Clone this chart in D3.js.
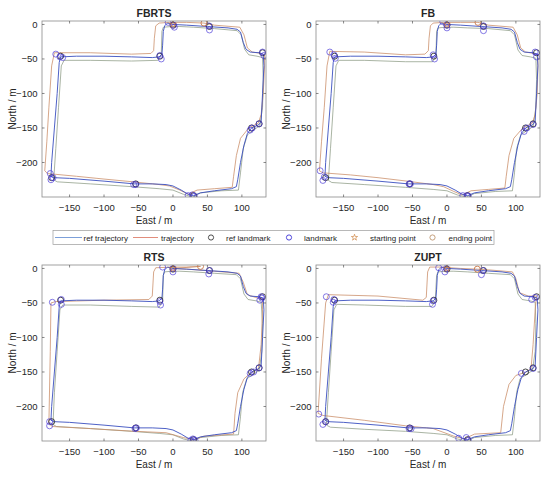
<!DOCTYPE html>
<meta charset="utf-8">
<head>
    <title>Trajectory comparison</title>
</head>
<style>
    body { margin: 0; background: #fff; }
    text { font-family: Arial, "Liberation Sans", sans-serif; fill: #262626; }
</style>
<script src="https://d3js.org/d3.v7.min.js"></script>
<body>
    <div id="chart"></div>
</body>
<script>

    // data
    var panelNames = ["FBRTS", "FB", "RTS", "ZUPT"];
    var xTicks = [-150, -100, -50, 0, 50, 100];
    var yTicks = [-200, -150, -100, -50, 0];

    var refTrajectory = [[-8, 2], [0, 0], [20, -1], [50, -3], [80, -5], [93, -7], [98, -11], [102, -26], [106, -36], [112, -40], [125, -41], [131, -43], [132, -60], [130, -100], [128, -140], [125, -145], [114, -150], [108, -158], [103, -175], [98, -200], [94, -225], [92, -235], [85, -238], [60, -241], [40, -244], [30, -248], [22, -246], [12, -240], [0, -234], [-10, -232], [-30, -231], [-56, -231], [-100, -227], [-150, -223], [-172, -222], [-177, -220], [-176, -200], [-172, -150], [-168, -100], [-165, -55], [-163, -47], [-140, -46], [-100, -46], [-60, -47], [-30, -48], [-20, -47], [-16, -43], [-15, -30], [-14, -10], [-12, -2], [-8, 2]];

    var trajFBRTS = [[45, 2], [20, 3], [-5, 3], [-20, 2], [-25, -2], [-27, -20], [-28, -38], [-32, -42], [-60, -43], [-120, -41], [-172, -41], [-176, -60], [-180, -120], [-183, -170], [-186, -212], [-182, -216], [-140, -220], [-100, -224], [-58, -228], [-20, -232], [-5, -234], [10, -240], [22, -246], [35, -240], [60, -238], [86, -236], [88, -220], [92, -190], [98, -165], [110, -150], [124, -143], [128, -130], [131, -100], [133, -60], [133, -45], [128, -42], [115, -40], [108, -34], [103, -15], [97, -4], [60, -1], [45, 2]];
    var trajFB = [[45, 3], [20, 3], [-5, 3], [-20, 2], [-24, -2], [-26, -20], [-27, -38], [-32, -43], [-60, -44], [-120, -40], [-170, -39], [-174, -60], [-178, -120], [-182, -170], [-185, -212], [-180, -215], [-140, -218], [-100, -222], [-58, -227], [-20, -232], [-5, -235], [10, -242], [22, -247], [35, -241], [60, -239], [84, -237], [86, -220], [90, -190], [97, -165], [110, -150], [124, -143], [128, -130], [131, -100], [132, -60], [132, -44], [126, -42], [114, -40], [107, -34], [102, -15], [96, -4], [60, -1], [45, 3]];
    var trajRTS = [[40, 3], [20, 2], [0, 2], [-25, 1], [-28, -5], [-30, -40], [-35, -45], [-100, -46], [-170, -48], [-177, -50], [-178, -120], [-180, -225], [-175, -229], [-120, -232], [-55, -236], [-10, -238], [15, -245], [30, -248], [45, -243], [88, -240], [90, -210], [94, -180], [103, -160], [112, -152], [124, -146], [128, -110], [130, -60], [130, -44], [120, -42], [108, -38], [102, -20], [96, -7], [60, -4], [20, -1], [0, 0], [40, 3]];
    var trajZUPT = [[44, -1], [20, 0], [-10, 2], [-25, 2], [-28, -5], [-30, -42], [-35, -46], [-100, -40], [-172, -38], [-176, -50], [-182, -130], [-187, -210], [-180, -213], [-120, -220], [-60, -228], [-20, -232], [10, -243], [25, -247], [40, -240], [78, -238], [82, -200], [90, -168], [100, -155], [115, -150], [122, -145], [125, -110], [128, -60], [130, -40], [118, -40], [105, -35], [100, -15], [95, -5], [60, -2], [44, -1]];

    var altFBRTS = [[-2, -3], [-14, -4], [-16, -10], [-17, -45], [-22, -52], [-60, -53], [-120, -52], [-158, -52], [-162, -60], [-166, -120], [-170, -180], [-173, -225], [-168, -228], [-120, -231], [-60, -235], [-20, -238], [0, -240], [15, -246], [28, -250], [40, -244], [70, -241], [95, -240], [98, -215], [102, -180], [108, -160], [118, -152], [126, -147], [130, -120], [131, -80], [130, -48], [122, -46], [110, -44], [104, -36], [99, -15], [93, -9], [60, -6], [30, -4], [10, -3], [-2, -3]];
    var altFB = [[-2, -4], [-13, -5], [-15, -10], [-16, -46], [-21, -54], [-60, -54], [-120, -52], [-157, -52], [-161, -60], [-165, -120], [-169, -180], [-172, -226], [-167, -229], [-120, -232], [-60, -236], [-20, -239], [0, -241], [15, -247], [28, -250], [40, -245], [70, -242], [95, -241], [98, -215], [101, -180], [107, -160], [117, -153], [125, -148], [129, -120], [130, -80], [129, -49], [121, -47], [109, -45], [103, -37], [98, -15], [92, -9], [60, -6], [30, -5], [10, -4], [-2, -4]];
    var altRTS = [[-2, -4], [-12, -5], [-14, -10], [-15, -48], [-20, -56], [-60, -55], [-120, -53], [-160, -53], [-164, -60], [-168, -120], [-172, -180], [-174, -226], [-169, -229], [-120, -232], [-60, -236], [-20, -239], [0, -241], [15, -247], [28, -250], [40, -245], [70, -242], [95, -241], [98, -215], [101, -180], [107, -160], [117, -153], [125, -148], [129, -120], [130, -80], [128, -49], [121, -47], [109, -45], [103, -37], [98, -15], [92, -9], [60, -7], [30, -5], [10, -4], [-2, -4]];
    var altZUPT = [[-2, -4], [-13, -5], [-15, -10], [-17, -47], [-22, -55], [-60, -55], [-120, -53], [-160, -52], [-164, -60], [-168, -120], [-172, -180], [-175, -227], [-169, -230], [-120, -233], [-60, -236], [-20, -239], [0, -241], [15, -247], [28, -250], [40, -245], [70, -242], [95, -241], [98, -215], [101, -180], [106, -160], [116, -153], [124, -148], [128, -120], [129, -80], [128, -49], [121, -47], [109, -45], [103, -37], [98, -15], [92, -9], [60, -7], [30, -5], [10, -4], [-2, -4]];

    var refLandmarks = [[0, -1], [53, -3], [130, -41], [125, -144], [114, -150], [30, -248], [-54, -231], [-176, -222], [-163, -46], [-19, -46]];

    var lmFBRTS = [[-7, 3], [1, -1], [2, -4], [52, -2], [53, -8], [130, -40], [132, -45], [125, -144], [115, -150], [112, -153], [22, -248], [28, -247], [31, -249], [-57, -232], [-54, -232], [-178, -216], [-177, -225], [-174, -222], [-170, -43], [-164, -47], [-160, -48], [-19, -45], [-17, -50]];
    var lmFB = [[-6, 4], [0, -1], [0, -5], [53, -2], [53, -9], [128, -40], [130, -47], [125, -145], [116, -150], [112, -155], [23, -248], [29, -248], [31, -249], [-55, -231], [-53, -231], [-184, -212], [-178, -221], [-180, -226], [-170, -40], [-164, -44], [-162, -49], [-20, -44], [-18, -50]];
    var lmRTS = [[-15, 2], [0, 0], [0, -5], [53, -3], [52, -8], [128, -41], [126, -46], [129, -43], [125, -144], [117, -150], [112, -152], [26, -249], [32, -249], [29, -247], [-55, -232], [-53, -231], [-179, -222], [-179, -228], [-175, -49], [-162, -45], [-162, -52], [-19, -48], [-18, -53]];
    var lmZUPT = [[-12, 1], [-1, 0], [-3, -5], [52, -3], [50, -9], [128, -42], [123, -45], [125, -145], [108, -152], [17, -246], [28, -245], [31, -249], [-55, -232], [-52, -232], [-186, -211], [-180, -226], [-176, -222], [-175, -41], [-164, -45], [-165, -49], [-20, -47], [-21, -52]];

    var startPoints = [[0, 0], [0, 0], [0, 0], [0, 0]];
    var endPoints = [[45, 2], [45, 3], [40, 3], [44, -1]];

    var trajectories = [trajFBRTS, trajFB, trajRTS, trajZUPT];
    var altTrajectories = [altFBRTS, altFB, altRTS, altZUPT];
    var landmarks = [lmFBRTS, lmFB, lmRTS, lmZUPT];

    var legendLabels = ["ref trajectory", "trajectory", "ref landmark", "landmark", "starting point", "ending point"];

    // colors
    var refColor = "#3a4fc0",
        trajColor = "#c98a64",
        altColor = "#87977f",
        lmColor = "#4a3ad8",
        refLmColor = "#1a1a1a",
        endColor = "#c8784a";

    var svg = d3.select("#chart")
        .append("svg")
        .attr("width", 550)
        .attr("height", 479);

    svg.append("rect").attr("width", 550).attr("height", 479).attr("fill", "#fff");

    // panel boxes (left, top)
    var panelPos = [[42, 21], [316, 21], [42, 265], [316, 265]];
    var pw = 224, ph = 176;

    var x = d3.scaleLinear().domain([-190, 135]).range([0, pw]);
    var y = d3.scaleLinear().domain([-250, 5]).range([ph, 0]);

    var line = d3.line()
        .x(function (d) { return x(d[0]); })
        .y(function (d) { return y(d[1]); })
        .curve(d3.curveLinear);

    panelNames.forEach(function (name, i) {
        var g = svg.append("g")
            .attr("transform", "translate(" + panelPos[i][0] + "," + panelPos[i][1] + ")");

        g.append("defs").append("clipPath").attr("id", "clip" + i)
            .append("rect").attr("width", pw).attr("height", ph);

        var plot = g.append("g").attr("clip-path", "url(#clip" + i + ")");

        plot.append("path").datum(altTrajectories[i])
            .attr("fill", "none").attr("stroke", altColor)
            .attr("stroke-width", 0.8).attr("opacity", 0.9)
            .attr("d", line);

        plot.append("path").datum(trajectories[i])
            .attr("fill", "none").attr("stroke", trajColor)
            .attr("stroke-width", 0.8).attr("opacity", 0.95)
            .attr("d", line);

        plot.append("path").datum(refTrajectory)
            .attr("fill", "none").attr("stroke", refColor)
            .attr("stroke-width", 0.9)
            .attr("d", line);

        plot.selectAll(".reflm").data(refLandmarks).enter()
            .append("circle")
            .attr("cx", function (d) { return x(d[0]); })
            .attr("cy", function (d) { return y(d[1]); })
            .attr("r", 3).attr("fill", "none")
            .attr("stroke", refLmColor).attr("stroke-width", 0.8);

        plot.selectAll(".lm").data(landmarks[i]).enter()
            .append("circle")
            .attr("cx", function (d) { return x(d[0]); })
            .attr("cy", function (d) { return y(d[1]); })
            .attr("r", 3).attr("fill", "none")
            .attr("stroke", lmColor).attr("stroke-width", 0.8).attr("opacity", 0.85);

        plot.append("path")
            .attr("transform", "translate(" + x(startPoints[i][0]) + "," + y(startPoints[i][1]) + ")")
            .attr("d", d3.symbol().type(d3.symbolStar).size(14))
            .attr("fill", "none").attr("stroke", endColor).attr("stroke-width", 0.7);

        plot.append("circle")
            .attr("cx", x(endPoints[i][0])).attr("cy", y(endPoints[i][1]))
            .attr("r", 3).attr("fill", "none")
            .attr("stroke", endColor).attr("stroke-width", 0.9);

        // box
        g.append("rect").attr("width", pw).attr("height", ph)
            .attr("fill", "none").attr("stroke", "#8a8a8a").attr("stroke-width", 0.8);

        // ticks pointing in, all four sides
        xTicks.forEach(function (t) {
            g.append("line").attr("x1", x(t)).attr("x2", x(t)).attr("y1", ph).attr("y2", ph - 2.5)
                .attr("stroke", "#555").attr("stroke-width", 0.7);
            g.append("line").attr("x1", x(t)).attr("x2", x(t)).attr("y1", 0).attr("y2", 2.5)
                .attr("stroke", "#555").attr("stroke-width", 0.7);
            g.append("text").attr("x", x(t)).attr("y", ph + 13.5)
                .attr("text-anchor", "middle").style("font-size", "9.5px")
                .text(t < 0 ? "\u2212" + Math.abs(t) : t);
        });
        yTicks.forEach(function (t) {
            g.append("line").attr("x1", 0).attr("x2", 2.5).attr("y1", y(t)).attr("y2", y(t))
                .attr("stroke", "#555").attr("stroke-width", 0.7);
            g.append("line").attr("x1", pw).attr("x2", pw - 2.5).attr("y1", y(t)).attr("y2", y(t))
                .attr("stroke", "#555").attr("stroke-width", 0.7);
            g.append("text").attr("x", -4.5).attr("y", y(t) + 3.3)
                .attr("text-anchor", "end").style("font-size", "9.5px")
                .text(t < 0 ? "\u2212" + Math.abs(t) : t);
        });

        // title and axis labels
        g.append("text").attr("x", pw / 2).attr("y", -4.5)
            .attr("text-anchor", "middle").style("font-size", "10.5px").style("font-weight", "bold")
            .text(name);
        g.append("text").attr("x", pw / 2).attr("y", ph + 26.5)
            .attr("text-anchor", "middle").style("font-size", "10px")
            .text("East / m");
        g.append("text")
            .attr("transform", "translate(-26," + (ph / 2) + ") rotate(-90)")
            .attr("text-anchor", "middle").style("font-size", "10px")
            .text("North / m");
    });

    // legend
    var leg = svg.append("g").attr("transform", "translate(53,230.5)");
    leg.append("rect").attr("width", 441).attr("height", 14)
        .attr("fill", "#fff").attr("stroke", "#9a9a9a").attr("stroke-width", 0.7);

    var legCy = 7;
    leg.append("line").attr("x1", 2).attr("x2", 29).attr("y1", legCy).attr("y2", legCy)
        .attr("stroke", "#5b86cf").attr("stroke-width", 0.8);
    leg.append("line").attr("x1", 80).attr("x2", 105).attr("y1", legCy).attr("y2", legCy)
        .attr("stroke", "#d9705a").attr("stroke-width", 0.8);
    leg.append("circle").attr("cx", 158).attr("cy", legCy).attr("r", 2.6)
        .attr("fill", "none").attr("stroke", "#222").attr("stroke-width", 0.8);
    leg.append("circle").attr("cx", 236).attr("cy", legCy).attr("r", 2.6)
        .attr("fill", "none").attr("stroke", "#3d34d8").attr("stroke-width", 0.9);
    leg.append("path").attr("transform", "translate(301.5," + legCy + ")")
        .attr("d", d3.symbol().type(d3.symbolStar).size(12))
        .attr("fill", "none").attr("stroke", "#d08a4a").attr("stroke-width", 0.7);
    leg.append("circle").attr("cx", 379.5).attr("cy", legCy).attr("r", 2.6)
        .attr("fill", "none").attr("stroke", "#b88a60").attr("stroke-width", 0.8);

    var legTextX = [30.5, 108, 173, 251, 317, 395.5];
    legendLabels.forEach(function (lab, i) {
        leg.append("text").attr("x", legTextX[i]).attr("y", legCy + 3)
            .style("font-size", "8px").text(lab);
    });

</script>
